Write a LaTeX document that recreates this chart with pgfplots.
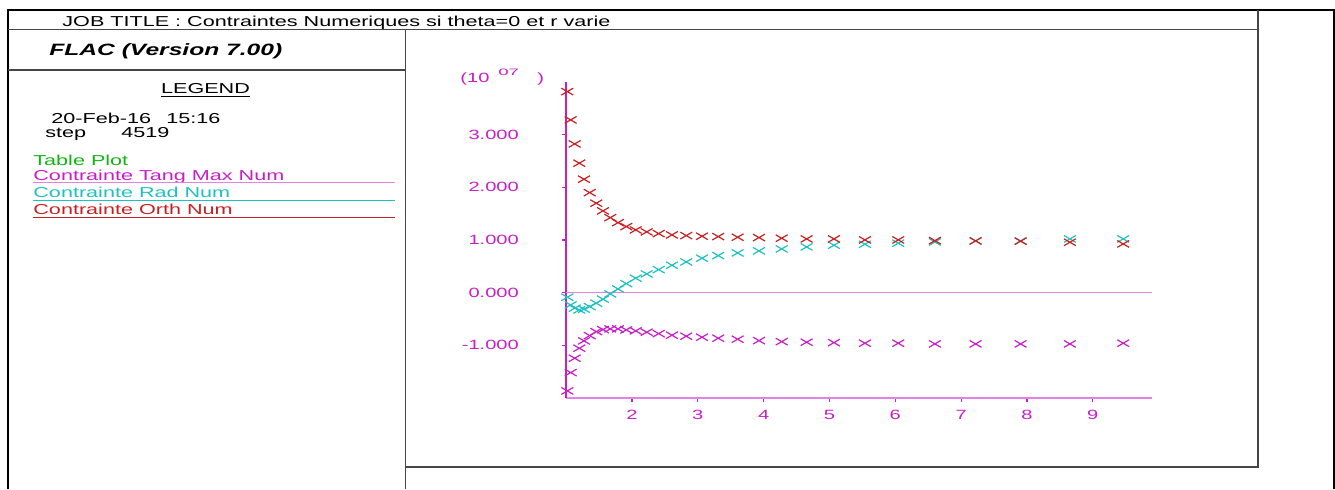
\documentclass[border=0pt]{standalone}
\usepackage{fontspec}
\setmainfont{Liberation Sans}[FakeStretch=1.5]
\usepackage{pgfplots}
\usepackage{pgfplotstable}
\pgfplotsset{compat=1.18}
\definecolor{mag}{RGB}{200,30,200}
\definecolor{maglight}{RGB}{228,130,228}
\definecolor{cy}{RGB}{30,192,192}
\definecolor{rd}{RGB}{200,32,32}
\definecolor{gr}{RGB}{20,180,20}
\definecolor{frm}{RGB}{70,70,70}
\pgfplotstableread{
r tang rad orth
1.017 -1.867 -0.087 3.818
1.068 -1.519 -0.234 3.280
1.129 -1.246 -0.296 2.824
1.199 -1.056 -0.329 2.458
1.270 -0.917 -0.315 2.154
1.357 -0.817 -0.266 1.899
1.457 -0.741 -0.201 1.698
1.559 -0.703 -0.125 1.552
1.670 -0.689 -0.025 1.424
1.787 -0.689 0.070 1.329
1.913 -0.708 0.171 1.254
2.056 -0.727 0.274 1.191
2.223 -0.752 0.355 1.153
2.405 -0.779 0.437 1.121
2.607 -0.809 0.520 1.096
2.824 -0.828 0.583 1.083
3.063 -0.847 0.653 1.071
3.310 -0.866 0.703 1.064
3.605 -0.885 0.754 1.052
3.929 -0.912 0.792 1.045
4.274 -0.931 0.830 1.033
4.653 -0.942 0.868 1.020
5.068 -0.950 0.900 1.020
5.539 -0.961 0.919 1.001
6.045 -0.961 0.938 1.001
6.602 -0.974 0.963 0.988
7.220 -0.974 0.982 0.982
7.904 -0.974 0.982 0.976
8.653 -0.974 1.020 0.957
9.463 -0.961 1.020 0.925
}\flacdata
\begin{document}
\begin{tikzpicture}
\begin{scope}[x=0.5pt,y=-0.5pt]
\useasboundingbox (0,0) rectangle (1335,489);
% frames
\draw[black,line width=0.7pt] (8,489) -- (8,10) -- (1334,10) -- (1334,489);
\draw[frm,line width=0.7pt] (8,29.5) -- (1258,29.5);
\draw[frm,line width=0.7pt] (405.5,29.5) -- (405.5,489);
\draw[frm,line width=0.7pt] (8,70) -- (405.5,70);
\draw[frm,line width=0.9pt] (1258,10) -- (1258,467) -- (405.5,467);
% texts
\node[anchor=base west,inner sep=0pt,font=\fontsize{7.2}{8}\selectfont] at (62,26.7) {JOB TITLE : Contraintes Numeriques si theta=0 et r varie};
\node[anchor=base west,inner sep=0pt,font=\fontsize{8.2}{9}\selectfont\bfseries\itshape] at (49,55) {FLAC (Version 7.00)};
\node[anchor=base,inner sep=0pt,font=\fontsize{7.2}{8}\selectfont] at (205.5,93.3) {LEGEND};
\draw[black,line width=0.5pt] (161,96) -- (250,96);
\node[anchor=base west,inner sep=0pt,font=\fontsize{7.2}{8}\selectfont] at (51,123.3) {20-Feb-16};
\node[anchor=base west,inner sep=0pt,font=\fontsize{7.2}{8}\selectfont] at (166,123.3) {15:16};
\node[anchor=base west,inner sep=0pt,font=\fontsize{7.2}{8}\selectfont] at (45,137.7) {step};
\node[anchor=base west,inner sep=0pt,font=\fontsize{7.2}{8}\selectfont] at (121,137.7) {4519};
\node[anchor=base west,inner sep=0pt,text=gr,font=\fontsize{7.2}{8}\selectfont] at (33,165.7) {Table Plot};
\node[anchor=base west,inner sep=0pt,text=mag,font=\fontsize{7.2}{8}\selectfont] at (33,180) {Contrainte Tang Max Num};
\draw[maglight,line width=0.6pt] (33,182.7) -- (395,182.7);
\node[anchor=base west,inner sep=0pt,text=cy,font=\fontsize{7.2}{8}\selectfont] at (33,197.3) {Contrainte Rad Num};
\draw[cy,line width=0.6pt] (33,200.3) -- (395,200.3);
\node[anchor=base west,inner sep=0pt,text=rd,font=\fontsize{7.2}{8}\selectfont] at (33,214.3) {Contrainte Orth Num};
\draw[rd,line width=0.6pt] (33,217.3) -- (395,217.3);
% exponent label
\node[anchor=base west,inner sep=0pt,text=mag,font=\fontsize{6.7}{8}\selectfont] at (460,82.5) {(10};
\node[anchor=base west,inner sep=0pt,text=mag,font=\fontsize{6.2}{7}\selectfont] at (498,75) {\scalebox{1}[0.75]{07}};
\node[anchor=base west,inner sep=0pt,text=mag,font=\fontsize{6.7}{8}\selectfont] at (537,82.5) {)};
\end{scope}
\begin{axis}[
  at={(283.1pt,-198.95pt)}, anchor=south west,
  scale only axis, width=292.9pt, height=157.95pt,
  xmin=1, xmax=9.9, ymin=-2, ymax=4,
  axis lines=left,
  x axis line style={-, draw=maglight, line width=0.8pt},
  y axis line style={-, draw=mag, line width=0.8pt},
  tick align=outside, major tick length=2pt,
  tick style={mag, line width=0.6pt},
  xtick={2,3,4,5,6,7,8,9},
  xticklabels={2,3,4,5,6,7,8,9},
  ytick={-1,0,1,2,3},
  yticklabels={-1.000,0.000,1.000,2.000,3.000},
  ticklabel style={text=mag, font=\fontsize{6.7}{8}\selectfont, inner sep=0pt},
  yticklabel style={anchor=east, xshift=-21.5pt},
  xticklabel style={anchor=north, yshift=-4pt},
  clip=false,
]
\draw[maglight, line width=0.8pt] (axis cs:1,0) -- (axis cs:9.9,0);
\addplot[only marks, mark=x, mag, mark size=4.2pt, mark options={yscale=0.58, line width=0.6pt}] table[x=r,y=tang] {\flacdata};
\addplot[only marks, mark=x, cy, mark size=4.2pt, mark options={yscale=0.58, line width=0.6pt}] table[x=r,y=rad] {\flacdata};
\addplot[only marks, mark=x, rd, mark size=4.2pt, mark options={yscale=0.58, line width=0.6pt}] table[x=r,y=orth] {\flacdata};
\end{axis}
\end{tikzpicture}
\end{document}
